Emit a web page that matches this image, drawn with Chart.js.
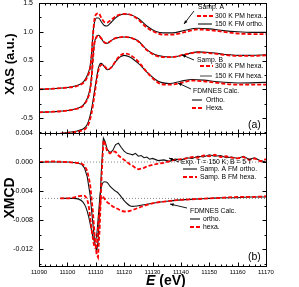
<!DOCTYPE html>
<html>
<head>
<meta charset="utf-8">
<script src="https://cdn.jsdelivr.net/npm/chart.js@4"></script>
<style>
    html, body { margin: 0; padding: 0; background: #fff; }
    #wrap { position: relative; width: 299px; height: 287px; }
    canvas { position: absolute; left: 0; }
</style>
</head>
<body>
<div id="wrap">
    <canvas id="xas" width="299" height="134" style="top:0"></canvas>
    <canvas id="xmcd" width="299" height="164" style="top:123px"></canvas>
</div>
<script>
/* ---- data ---- */

/* (a) XAS, experiment */
const XAS_E = [11090, 11095, 11100, 11103, 11105, 11106, 11107, 11108, 11108.5, 11109, 11109.5, 11110.3, 11111, 11112, 11113, 11114, 11115, 11116.5, 11118, 11120, 11122, 11125, 11128, 11131, 11134, 11137, 11141, 11146, 11150, 11155, 11160, 11165, 11170];
const A_FM_ORTHO = [0.00, 0.01, 0.03, 0.06, 0.10, 0.15, 0.24, 0.40, 0.60, 0.95, 1.15, 1.24, 1.24, 1.17, 1.11, 1.10, 1.14, 1.22, 1.28, 1.31, 1.30, 1.23, 1.10, 1.01, 0.98, 0.98, 1.02, 1.06, 1.05, 1.02, 1.00, 0.99, 0.99];
const A_PM_HEXA  = [0.00, 0.01, 0.03, 0.05, 0.09, 0.13, 0.21, 0.36, 0.56, 0.92, 1.20, 1.31, 1.32, 1.24, 1.17, 1.16, 1.19, 1.25, 1.29, 1.31, 1.30, 1.21, 1.07, 0.99, 0.95, 0.95, 0.99, 1.04, 1.03, 1.00, 0.97, 0.96, 0.96];
const B_FM_HEXA  = [-0.40, -0.39, -0.37, -0.34, -0.30, -0.25, -0.16, 0.02, 0.22, 0.55, 0.80, 0.92, 0.94, 0.88, 0.81, 0.80, 0.83, 0.88, 0.90, 0.91, 0.90, 0.84, 0.69, 0.60, 0.57, 0.56, 0.60, 0.65, 0.64, 0.61, 0.59, 0.59, 0.60];
const B_PM_HEXA  = [-0.40, -0.39, -0.37, -0.34, -0.31, -0.26, -0.18, -0.02, 0.18, 0.50, 0.78, 0.91, 0.93, 0.88, 0.82, 0.80, 0.83, 0.88, 0.90, 0.91, 0.90, 0.83, 0.68, 0.59, 0.56, 0.56, 0.60, 0.64, 0.63, 0.60, 0.58, 0.58, 0.59];

/* (a) XAS, FDMNES */
const CXAS_E = [11097.5, 11100, 11103, 11105, 11106.5, 11107.5, 11108.5, 11109.5, 11110.3, 11111, 11111.8, 11112.5, 11113.5, 11114.3, 11115.5, 11117, 11118.5, 11120, 11122, 11125, 11128, 11131, 11133, 11136, 11140, 11144, 11148, 11153, 11160, 11170];
const CXAS_ORTHO = [-0.77, -0.75, -0.73, -0.70, -0.65, -0.55, -0.35, -0.05, 0.20, 0.38, 0.45, 0.43, 0.36, 0.34, 0.38, 0.48, 0.56, 0.59, 0.56, 0.45, 0.30, 0.17, 0.12, 0.10, 0.14, 0.17, 0.16, 0.13, 0.11, 0.12];
const CXAS_HEXA  = [-0.77, -0.76, -0.74, -0.72, -0.68, -0.60, -0.42, -0.12, 0.15, 0.34, 0.42, 0.43, 0.38, 0.35, 0.38, 0.49, 0.58, 0.62, 0.60, 0.48, 0.30, 0.15, 0.09, 0.08, 0.11, 0.15, 0.14, 0.11, 0.08, 0.08];

/* (b) XMCD, experiment */
const EXP_E = [11090, 11095, 11100, 11103, 11105, 11106, 11107, 11108, 11109, 11109.7, 11110.3, 11110.8, 11111.4, 11112, 11112.7, 11113.3, 11114, 11115, 11116, 11117, 11118, 11119, 11120, 11121, 11122, 11123, 11124, 11125, 11126, 11127, 11128, 11129, 11130, 11132, 11134, 11136, 11138, 11140, 11142, 11144, 11146, 11148, 11150, 11152, 11154, 11156, 11158, 11160, 11162, 11164, 11166, 11168, 11170];
const A_XMCD = [0, 0, 0, -0.0001, -0.0003, -0.0008, -0.0020, -0.0045, -0.0085, -0.0112, -0.0123, -0.0110, -0.0065, -0.0010, 0.0033, 0.0028, 0.0018, 0.0013, 0.0016, 0.0024, 0.0026, 0.0020, 0.0015, 0.0012, 0.0011, 0.0010, 0.0012, 0.0008, 0.0009, 0.0006, 0.0007, 0.0004, 0.0005, 0.0002, 0.0003, 0.0001, 0.0004, 0.0003, 0.0006, 0.0005, 0.0008, 0.0007, 0.0010, 0.0008, 0.0009, 0.0006, 0.0007, 0.0005, 0.0008, 0.0004, 0.0006, 0.0002, 0.0000];
const B_XMCD = [0, 0.0001, 0, -0.0001, -0.0002, -0.0005, -0.0012, -0.0030, -0.0068, -0.0105, -0.0127, -0.0131, -0.0090, -0.0025, 0.0030, 0.0025, 0.0015, 0.0012, 0.0015, 0.0014, 0.0009, 0.0006, 0.0003, 0.0000, -0.0003, -0.0005, -0.0008, -0.0010, -0.0009, -0.0008, -0.0006, -0.0005, -0.0004, -0.0002, -0.0001, 0.0001, 0.0003, 0.0004, 0.0005, 0.0007, 0.0006, 0.0009, 0.0008, 0.0010, 0.0007, 0.0008, 0.0006, 0.0005, 0.0007, 0.0003, 0.0005, 0.0001, 0.0004];

/* (b) XMCD, FDMNES (shifted by -0.005) */
const CXMCD_E = [11097.5, 11100, 11102, 11104, 11105.5, 11106.5, 11107.5, 11108.3, 11109, 11109.7, 11110.4, 11111, 11111.6, 11112.3, 11113, 11114, 11115, 11116, 11117, 11118, 11119, 11120, 11121, 11122, 11123, 11125, 11128, 11131, 11135, 11140, 11145, 11150, 11155, 11160, 11165, 11170];
const CXMCD_ORTHO = [-0.0050, -0.0050, -0.0050, -0.0051, -0.0055, -0.0062, -0.0075, -0.0090, -0.0103, -0.0110, -0.0098, -0.0070, -0.0042, -0.0030, -0.0027, -0.0028, -0.0033, -0.0037, -0.0040, -0.0043, -0.0048, -0.0053, -0.0057, -0.0060, -0.0061, -0.0060, -0.0058, -0.0056, -0.0054, -0.0052, -0.0051, -0.0050, -0.0049, -0.0049, -0.0048, -0.0048];
const CXMCD_HEXA  = [-0.0050, -0.0050, -0.0049, -0.0047, -0.0046, -0.0048, -0.0060, -0.0085, -0.0105, -0.0118, -0.0112, -0.0080, -0.0055, -0.0047, -0.0050, -0.0055, -0.0058, -0.0061, -0.0063, -0.0065, -0.0067, -0.0068, -0.0068, -0.0067, -0.0066, -0.0063, -0.0059, -0.0056, -0.0054, -0.0052, -0.0051, -0.0050, -0.0049, -0.0048, -0.0048, -0.0047];

/* reference (dotted) baselines */
const BASE_E = [11090, 11170];
const BASE_EXP = [0, 0];
const BASE_CALC = [-0.005, -0.005];

/* axes */
const X_TICKS = [11090, 11100, 11110, 11120, 11130, 11140, 11150, 11160, 11170];
const X_MINOR = [];
for (let e = 11090; e <= 11170; e += 2) X_MINOR.push(e);
const XAS_TICKS = [-0.5, 0.0, 0.5, 1.0, 1.5];
const XAS_MINOR = [-0.75, -0.25, 0.25, 0.75, 1.25];
const XMCD_TICKS = [-0.012, -0.008, -0.004, 0.000, 0.004];
const XMCD_MINOR = [-0.014, -0.010, -0.006, -0.002, 0.002];

const FONT = '"Liberation Sans", Arial, sans-serif';
const RED = "#ff0000";
const BLACK = "#111";

function pts(xs, ys) {
    return xs.map((x, i) => ({ x, y: ys[i] }));
}

function curve(xs, ys, red, extra) {
    return Object.assign({
        data: pts(xs, ys),
        borderColor: red ? RED : BLACK,
        borderWidth: red ? 1.8 : 1.1,
        borderDash: red ? [4, 2] : [],
        pointRadius: 0,
        cubicInterpolationMode: "monotone",
        order: red ? 1 : 2,
    }, extra || {});
}

/* frame with inward ticks on all four sides */
const framePlugin = {
    id: "frame",
    afterDatasetsDraw(chart, args, o) {
        const ctx = chart.ctx, a = chart.chartArea;
        const sx = chart.scales.x, sy = chart.scales.y;
        const L = Math.round(a.left) + 0.5, R = Math.round(a.right) + 0.5;
        const T = Math.round(a.top) + 0.5, B = Math.round(a.bottom) + 0.5;
        ctx.save();
        ctx.strokeStyle = "#000";
        ctx.lineWidth = 1;
        ctx.strokeRect(L, T, R - L, B - T);
        ctx.beginPath();
        const xt = (v, len) => {
            const p = Math.round(sx.getPixelForValue(v)) + 0.5;
            ctx.moveTo(p, B); ctx.lineTo(p, B - len);
            ctx.moveTo(p, T); ctx.lineTo(p, T + len);
        };
        const yt = (v, len) => {
            const p = Math.round(sy.getPixelForValue(v)) + 0.5;
            ctx.moveTo(L, p); ctx.lineTo(L + len, p);
            ctx.moveTo(R, p); ctx.lineTo(R - len, p);
        };
        X_MINOR.forEach(v => xt(v, 2));
        X_TICKS.forEach(v => xt(v, 4));
        o.minor.forEach(v => yt(v, 2));
        o.major.forEach(v => yt(v, 4));
        ctx.stroke();
        ctx.restore();
    },
};

/* text, legend samples, arrows and axis titles (page coordinates) */
const notesPlugin = {
    id: "notes",
    afterDraw(chart, args, o) {
        const ctx = chart.ctx, dy = o.dy;
        ctx.save();
        ctx.textBaseline = "middle";
        ctx.textAlign = "left";
        ctx.fillStyle = "#000";
        for (const n of o.items) {
            if (n.t === "text") {
                ctx.font = (n.bold ? "bold " : "") + (n.size || 6.8) + "px " + FONT;
                ctx.fillText(n.s, n.x, n.y - dy);
            } else if (n.t === "line") {
                ctx.beginPath();
                ctx.strokeStyle = n.c === "red" ? RED : (n.c === "gray" ? "#555" : BLACK);
                ctx.lineWidth = n.c === "red" ? 1.8 : 1.1;
                ctx.setLineDash(n.c === "red" ? [4, 2] : []);
                ctx.moveTo(n.x1, n.y - dy);
                ctx.lineTo(n.x2, n.y - dy);
                ctx.stroke();
                ctx.setLineDash([]);
            } else if (n.t === "arrow") {
                const x1 = n.x1, y1 = n.y1 - dy, x2 = n.x2, y2 = n.y2 - dy;
                ctx.strokeStyle = "#000";
                ctx.lineWidth = 0.9;
                ctx.beginPath();
                ctx.moveTo(x1, y1); ctx.lineTo(x2, y2);
                ctx.stroke();
                const ang = Math.atan2(y2 - y1, x2 - x1), h = 4;
                ctx.beginPath();
                ctx.moveTo(x2, y2);
                ctx.lineTo(x2 - h * Math.cos(ang - 0.4), y2 - h * Math.sin(ang - 0.4));
                ctx.lineTo(x2 - h * Math.cos(ang + 0.4), y2 - h * Math.sin(ang + 0.4));
                ctx.closePath();
                ctx.fill();
            } else if (n.t === "ytitle") {
                ctx.font = "bold " + n.size + "px " + FONT;
                ctx.translate(n.x, n.y - dy);
                ctx.rotate(-Math.PI / 2);
                ctx.textAlign = "center";
                ctx.fillText(n.s, 0, 0);
                ctx.setTransform(1, 0, 0, 1, 0, 0);
                ctx.textAlign = "left";
            } else if (n.t === "etitle") {
                ctx.font = "italic bold " + n.size + "px " + FONT;
                ctx.fillText("E", n.x, n.y - dy);
                const w = ctx.measureText("E ").width;
                ctx.font = "bold " + n.size + "px " + FONT;
                ctx.fillText("(eV)", n.x + w, n.y - dy);
            }
        }
        ctx.restore();
    },
};

function yAxis(min, max, ticks, digits) {
    return {
        type: "linear",
        min, max,
        afterBuildTicks: s => { s.ticks = ticks.map(v => ({ value: v })); },
        afterFit: s => { s.width = 39; s.paddingTop = 0; s.paddingBottom = 0; },
        grid: { display: false, drawTicks: false },
        border: { display: false },
        ticks: {
            padding: 6,
            color: "#000",
            font: { family: FONT, size: 7 },
            callback: v => v.toFixed(digits),
        },
    };
}

Chart.defaults.font.family = FONT;
Chart.defaults.color = "#000";

/* (a) XAS */
new Chart(document.getElementById("xas"), {
    type: "line",
    data: {
        datasets: [
            curve(XAS_E, A_PM_HEXA, true),
            curve(XAS_E, A_FM_ORTHO, false),
            curve(XAS_E, B_PM_HEXA, true),
            curve(XAS_E, B_FM_HEXA, false),
            curve(CXAS_E, CXAS_HEXA, true),
            curve(CXAS_E, CXAS_ORTHO, false),
        ],
    },
    options: {
        responsive: false,
        animation: false,
        devicePixelRatio: 1,
        layout: { padding: { top: 3, right: 33, bottom: 1, left: 0 } },
        plugins: {
            legend: { display: false },
            tooltip: { enabled: false },
            frame: { major: XAS_TICKS, minor: XAS_MINOR },
            notes: {
                dy: 0,
                items: [
                    { t: "ytitle", s: "XAS (a.u.)", x: 10, y: 64, size: 13 },
                    { t: "text", s: "Samp. A", x: 198, y: 7 },
                    { t: "arrow", x1: 194, y1: 11, x2: 184, y2: 24 },
                    { t: "line", c: "red", x1: 197, x2: 213, y: 16 },
                    { t: "text", s: "300 K PM hexa.", x: 215, y: 16 },
                    { t: "line", c: "black", x1: 198, x2: 212, y: 24 },
                    { t: "text", s: "150 K FM ortho.", x: 215, y: 24 },
                    { t: "text", s: "Samp. B", x: 197, y: 60 },
                    { t: "arrow", x1: 194, y1: 60, x2: 182, y2: 55 },
                    { t: "line", c: "red", x1: 200, x2: 213, y: 66 },
                    { t: "text", s: "300 K PM hexa.", x: 215, y: 66 },
                    { t: "line", c: "gray", x1: 200, x2: 212, y: 76 },
                    { t: "text", s: "150 K FM hexa.", x: 215, y: 76 },
                    { t: "text", s: "FDMNES Calc.", x: 193, y: 91 },
                    { t: "arrow", x1: 191, y1: 89, x2: 178, y2: 83 },
                    { t: "line", c: "black", x1: 192, x2: 202, y: 100 },
                    { t: "text", s: "Ortho.", x: 206, y: 100 },
                    { t: "line", c: "red", x1: 192, x2: 202, y: 108 },
                    { t: "text", s: "Hexa.", x: 206, y: 108 },
                    { t: "text", s: "(a)", x: 248, y: 125, size: 10.5 },
                ],
            },
        },
        scales: {
            x: { type: "linear", min: 11090, max: 11170, display: false },
            y: yAxis(-0.76, 1.5, XAS_TICKS, 1),
        },
    },
    plugins: [framePlugin, notesPlugin],
});

/* (b) XMCD */
new Chart(document.getElementById("xmcd"), {
    type: "line",
    data: {
        datasets: [
            curve(EXP_E, B_XMCD, true, { cubicInterpolationMode: "default", tension: 0 }),
            curve(EXP_E, A_XMCD, false, { cubicInterpolationMode: "default", tension: 0 }),
            curve(CXMCD_E, CXMCD_HEXA, true),
            curve(CXMCD_E, CXMCD_ORTHO, false),
            { data: pts(BASE_E, BASE_EXP), borderColor: "#888", borderWidth: 1, borderDash: [1, 2], pointRadius: 0, order: 3 },
            { data: pts(BASE_E, BASE_CALC), borderColor: "#888", borderWidth: 1, borderDash: [1, 2], pointRadius: 0, order: 3 },
        ],
    },
    options: {
        responsive: false,
        animation: false,
        devicePixelRatio: 1,
        layout: { padding: { top: 10, right: 33, bottom: 0, left: 0 } },
        plugins: {
            legend: { display: false },
            tooltip: { enabled: false },
            frame: { major: XMCD_TICKS, minor: XMCD_MINOR },
            notes: {
                dy: 123,
                items: [
                    { t: "ytitle", s: "XMCD", x: 10, y: 198, size: 14 },
                    { t: "etitle", x: 146, y: 281, size: 14 },
                    { t: "arrow", x1: 179, y1: 162, x2: 169, y2: 158 },
                    { t: "text", s: "Exp. T = 150 K; B = 5 T", x: 181, y: 162 },
                    { t: "line", c: "black", x1: 183, x2: 197, y: 169 },
                    { t: "text", s: "Samp. A FM ortho.", x: 200, y: 169 },
                    { t: "line", c: "red", x1: 183, x2: 197, y: 177 },
                    { t: "text", s: "Samp. B FM hexa.", x: 200, y: 177 },
                    { t: "arrow", x1: 187, y1: 208, x2: 170, y2: 204 },
                    { t: "text", s: "FDMNES Calc.", x: 190, y: 211 },
                    { t: "line", c: "black", x1: 190, x2: 200, y: 219 },
                    { t: "text", s: "ortho.", x: 203, y: 219 },
                    { t: "line", c: "red", x1: 190, x2: 200, y: 227 },
                    { t: "text", s: "hexa.", x: 203, y: 227 },
                    { t: "text", s: "(b)", x: 248, y: 257, size: 10.5 },
                ],
            },
        },
        scales: {
            x: {
                type: "linear",
                min: 11090, max: 11170,
                afterBuildTicks: s => { s.ticks = X_TICKS.map(v => ({ value: v })); },
                afterFit: s => { s.height = 21; s.paddingLeft = 0; s.paddingRight = 0; },
                grid: { display: false, drawTicks: false },
                border: { display: false },
                ticks: {
                    padding: 3,
                    color: "#000",
                    maxRotation: 0,
                    autoSkip: false,
                    font: { family: FONT, size: 6 },
                    callback: v => String(v),
                },
            },
            y: yAxis(-0.0143, 0.004, XMCD_TICKS, 3),
        },
    },
    plugins: [framePlugin, notesPlugin],
});
</script>
</body>
</html>
